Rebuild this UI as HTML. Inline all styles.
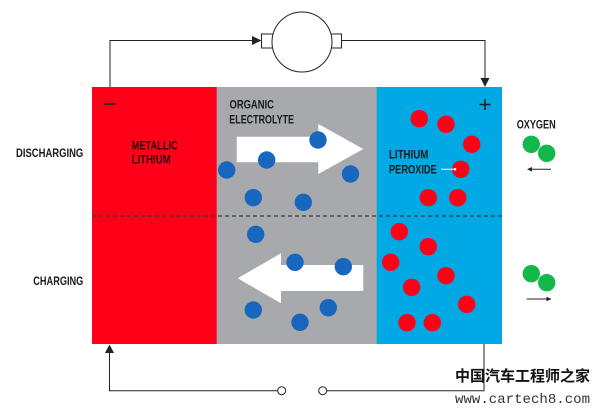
<!DOCTYPE html>
<html>
<head>
<meta charset="utf-8">
<style>
html,body{margin:0;padding:0;background:#fff;}
svg{display:block;}
text{font-family:"Liberation Sans","Noto Sans CJK SC",sans-serif;}
</style>
</head>
<body>
<svg width="600" height="413" viewBox="0 0 600 413" xmlns="http://www.w3.org/2000/svg">
  <!-- panels -->
  <rect x="92" y="87" width="125" height="257" fill="#FF0019"/>
  <rect x="216.7" y="87" width="160.3" height="257" fill="#A7A9AC"/>
  <rect x="376.7" y="87" width="125.3" height="257" fill="#00A8E4"/>

  <!-- dashed line -->
  <line x1="92" y1="216" x2="502" y2="216" stroke="#3a3a3a" stroke-width="1.2" stroke-dasharray="4,3"/>

  <!-- top wires & motor -->
  <polyline points="110,87 110,40.5 253,40.5" fill="none" stroke="#222" stroke-width="1"/>
  <polygon points="252,36 261.5,40.5 252,45" fill="#222"/>
  <rect x="261.5" y="34" width="12" height="14" fill="#fff" stroke="#222" stroke-width="1"/>
  <rect x="330.5" y="34" width="11" height="14" fill="#fff" stroke="#222" stroke-width="1"/>
  <circle cx="302" cy="42" r="30" fill="#fff" stroke="#222" stroke-width="1"/>
  <polyline points="341.5,40.5 485,40.5 485,79" fill="none" stroke="#222" stroke-width="1"/>
  <polygon points="480.5,78 489.5,78 485,87" fill="#222"/>

  <!-- minus / plus -->
  <line x1="104" y1="104" x2="115" y2="104" stroke="#222" stroke-width="1.6"/>
  <line x1="479.5" y1="104.5" x2="490.5" y2="104.5" stroke="#222" stroke-width="1.6"/>
  <line x1="485" y1="99" x2="485" y2="110" stroke="#222" stroke-width="1.6"/>

  <!-- bottom wires -->
  <polyline points="109.5,353 109.5,390.7 277.7,390.7" fill="none" stroke="#222" stroke-width="1"/>
  <polygon points="105,353 109.5,344.5 114,353" fill="#222"/>
  <circle cx="281.7" cy="390.7" r="4" fill="#fff" stroke="#222" stroke-width="1"/>
  <circle cx="322.7" cy="390.7" r="4" fill="#fff" stroke="#222" stroke-width="1"/>
  <polyline points="326.7,390.7 484,390.7 484,344" fill="none" stroke="#222" stroke-width="1"/>

  <!-- arrows -->
  <polygon points="236.7,136.7 318.3,136.7 318.3,124 363.3,149 318.3,174 318.3,162.3 236.7,162.3" fill="#fff"/>
  <polygon points="363.3,265 281,265 281,253.3 237.7,278.3 281,303.3 281,291 363.3,291" fill="#fff"/>

  <!-- blue dots -->
  <g fill="#1767BE">
    <circle cx="318" cy="140" r="8.7"/>
    <circle cx="266.7" cy="160" r="8.7"/>
    <circle cx="226.7" cy="170" r="8.7"/>
    <circle cx="350.5" cy="174" r="8.7"/>
    <circle cx="253.3" cy="197.7" r="8.7"/>
    <circle cx="303.3" cy="202.3" r="8.7"/>
    <circle cx="255.7" cy="234.3" r="8.7"/>
    <circle cx="295" cy="262.3" r="8.7"/>
    <circle cx="343.3" cy="266.7" r="8.7"/>
    <circle cx="253.3" cy="310" r="8.7"/>
    <circle cx="328.3" cy="307.7" r="8.7"/>
    <circle cx="300" cy="322.3" r="8.7"/>
  </g>

  <!-- red dots -->
  <g fill="#FF0019">
    <circle cx="419.3" cy="118.7" r="8.7"/>
    <circle cx="446" cy="124.3" r="8.7"/>
    <circle cx="471.7" cy="144.3" r="8.7"/>
    <circle cx="460.7" cy="169.3" r="8.7"/>
    <circle cx="428.3" cy="197.7" r="8.7"/>
    <circle cx="457.7" cy="197.7" r="8.7"/>
    <circle cx="399.3" cy="231.7" r="8.7"/>
    <circle cx="428.3" cy="246.7" r="8.7"/>
    <circle cx="390.7" cy="262.3" r="8.7"/>
    <circle cx="446" cy="275.7" r="8.7"/>
    <circle cx="411.7" cy="287.3" r="8.7"/>
    <circle cx="466.7" cy="304.3" r="8.7"/>
    <circle cx="407" cy="322.7" r="8.7"/>
    <circle cx="432.3" cy="322.7" r="8.7"/>
  </g>

  <!-- lithium peroxide pointer -->
  <line x1="441" y1="169.3" x2="455" y2="169.3" stroke="#cfeefb" stroke-width="1.2"/>
  <circle cx="455" cy="169.3" r="1.3" fill="#fff"/>

  <!-- oxygen molecules -->
  <g fill="#12B94A">
    <circle cx="531.3" cy="144.3" r="8.7"/>
    <circle cx="546.7" cy="153.3" r="8.7"/>
    <circle cx="531.3" cy="273.7" r="8.7"/>
    <circle cx="546.7" cy="282.7" r="8.7"/>
  </g>
  <line x1="530" y1="169.3" x2="551" y2="169.3" stroke="#222" stroke-width="1"/>
  <polygon points="527,169.3 532,167 532,171.6" fill="#222"/>
  <line x1="526.7" y1="299" x2="548" y2="299" stroke="#222" stroke-width="1"/>
  <polygon points="551.5,299 546.5,296.7 546.5,301.3" fill="#222"/>

  <!-- labels -->
  <g font-weight="bold" font-size="12" fill="#1a1a1a">
    <text x="16" y="157" textLength="67.3" lengthAdjust="spacingAndGlyphs">DISCHARGING</text>
    <text x="33.3" y="285" textLength="50" lengthAdjust="spacingAndGlyphs">CHARGING</text>
    <text x="131.7" y="149.3" textLength="46" lengthAdjust="spacingAndGlyphs" fill="#2a0508">METALLIC</text>
    <text x="131.7" y="163.6" textLength="39" lengthAdjust="spacingAndGlyphs" fill="#2a0508">LITHIUM</text>
    <text x="229.5" y="108.6" textLength="44.4" lengthAdjust="spacingAndGlyphs">ORGANIC</text>
    <text x="229.3" y="123.3" textLength="64.7" lengthAdjust="spacingAndGlyphs">ELECTROLYTE</text>
    <text x="389" y="158.3" textLength="39.3" lengthAdjust="spacingAndGlyphs">LITHIUM</text>
    <text x="389" y="173.6" textLength="47.7" lengthAdjust="spacingAndGlyphs">PEROXIDE</text>
    <text x="516.7" y="128.3" textLength="39" lengthAdjust="spacingAndGlyphs">OXYGEN</text>
  </g>

  <!-- watermark -->
  <text x="455" y="381" font-size="15" font-weight="bold" fill="#111" textLength="135" lengthAdjust="spacingAndGlyphs" style="font-family:'Noto Sans CJK SC','WenQuanYi Zen Hei',sans-serif;">中国汽车工程师之家</text>
  <text x="455" y="403" font-size="14" fill="#333" textLength="135" lengthAdjust="spacingAndGlyphs" style="font-family:'Liberation Mono',monospace;">www.cartech8.com</text>
</svg>
</body>
</html>
